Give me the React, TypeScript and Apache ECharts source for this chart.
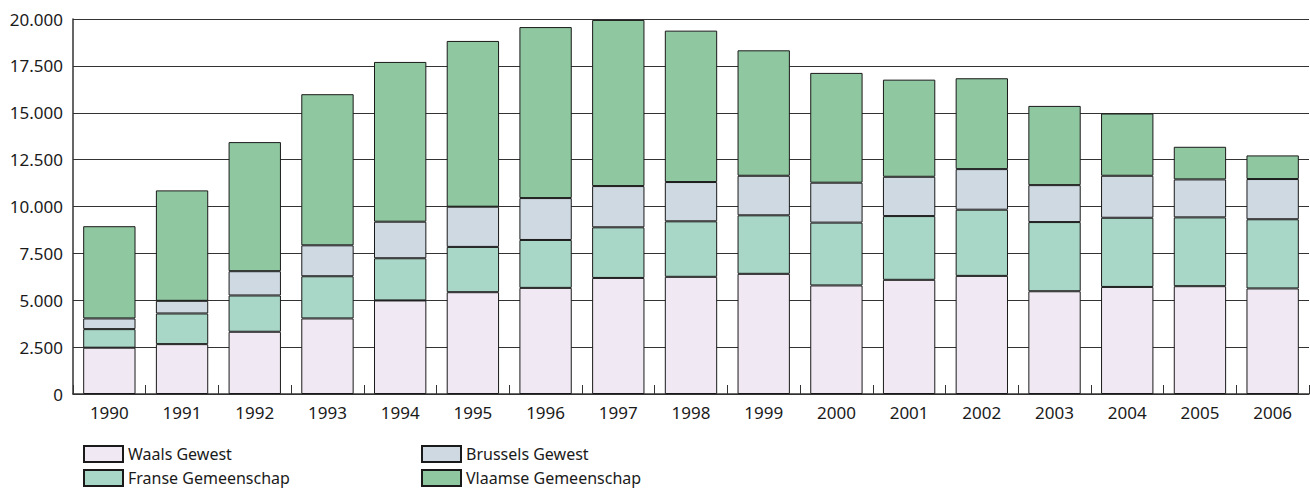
import React, { useEffect, useRef } from "react";
import * as echarts from "echarts";

const years = ["1990","1991","1992","1993","1994","1995","1996","1997","1998","1999","2000","2001","2002","2003","2004","2005","2006"];
const waals = [2470, 2660, 3320, 4030, 4990, 5430, 5660, 6190, 6250, 6410, 5790, 6090, 6300, 5480, 5710, 5750, 5630];
const franse = [990, 1635, 1935, 2250, 2250, 2415, 2555, 2700, 2960, 3120, 3350, 3400, 3530, 3690, 3690, 3670, 3690];
const brussels = [570, 675, 1295, 1650, 1950, 2145, 2235, 2200, 2095, 2110, 2130, 2095, 2165, 1970, 2240, 2025, 2145];
const vlaams = [4920, 5890, 6885, 8060, 8520, 8840, 9120, 8860, 8075, 6690, 5855, 5180, 4845, 4225, 3320, 1740, 1260];

const seriesNames = ["Waals Gewest", "Franse Gemeenschap", "Brussels Gewest", "Vlaamse Gemeenschap"];
const seriesColors = ["#F0E8F2", "#A8D6C7", "#CFD9E2", "#8FC7A0"];

const FONT = "'Noto Sans', sans-serif";

export default function App() {
  const ref = useRef<HTMLDivElement>(null);
  useEffect(() => {
    document.body.style.margin = "0";
    const chart = echarts.init(ref.current!, null, { renderer: "svg" });
    const dataSets = [waals, franse, brussels, vlaams];
    const legendPos = [
      { left: 83, top: 445 },
      { left: 83, top: 469 },
      { left: 421, top: 445 },
      { left: 421, top: 469 },
    ];
    chart.setOption({
      animation: false,
      textStyle: { fontFamily: FONT },
      grid: { left: 73, right: 1, top: 19, bottom: 95, containLabel: false },
      legend: seriesNames.map((n, i) => ({
        data: [n],
        left: legendPos[i].left,
        top: legendPos[i].top,
        padding: 0,
        itemWidth: 39,
        itemHeight: 16,
        itemGap: 5,
        icon: "rect",
        selectedMode: false,
        textStyle: { fontFamily: FONT, fontSize: 16, lineHeight: 16, color: "#1a1a1a" },
      })),
      xAxis: {
        type: "category",
        data: years,
        axisLine: { show: true, lineStyle: { color: "#333", width: 1.5 } },
        axisTick: { show: true, inside: true, length: 9, interval: 0, lineStyle: { color: "#333", width: 1 } },
        axisLabel: { fontFamily: FONT, fontSize: 17, color: "#1a1a1a", margin: 10, interval: 0 },
      },
      yAxis: {
        type: "value",
        min: 0,
        max: 20000,
        interval: 2500,
        axisLine: { show: true, lineStyle: { color: "#333", width: 1.5 } },
        axisTick: { show: false },
        splitLine: { show: true, lineStyle: { color: "#333", width: 1 } },
        axisLabel: {
          fontFamily: FONT,
          fontSize: 17,
          color: "#1a1a1a",
          margin: 10,
          formatter: (v: number) => (v === 0 ? "0" : v.toLocaleString("de-DE", { minimumFractionDigits: 0 })),
        },
      },
      series: seriesNames.map((n, i) => ({
        name: n,
        type: "bar",
        stack: "total",
        data: dataSets[i],
        barCategoryGap: "28%",
        itemStyle: { color: seriesColors[i], borderColor: "#1a1a1a", borderWidth: 1 },
        emphasis: { disabled: true },
      })),
    });
    return () => chart.dispose();
  }, []);
  return <div ref={ref} style={{ width: 1310, height: 489, position: "absolute", left: 0, top: 0 }} />;
}
